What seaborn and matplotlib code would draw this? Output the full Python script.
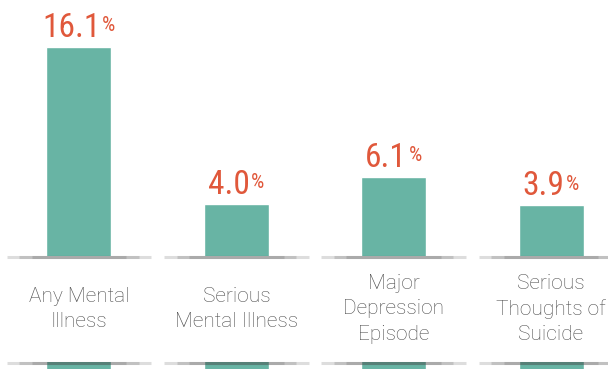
import matplotlib
matplotlib.use("Agg")
import matplotlib.pyplot as plt
import seaborn as sns
import numpy as np

categories = ["Any Mental\nIllness", "Serious\nMental Illness", "Major\nDepression\nEpisode", "Serious\nThoughts of\nSuicide"]
values = [16.1, 4.0, 6.1, 3.9]
value_labels = ["16.1", "4.0", "6.1", "3.9"]

TEAL = "#68B4A4"
RED = "#E0583B"
GRAY = "#4d4d4d"

sns.set_theme(style="white")
plt.rcParams["font.family"] = ["Roboto", "DejaVu Sans"]

NUM_FONT = ["Roboto Condensed", "Roboto"]

W, H = 608, 369
fig = plt.figure(figsize=(W / 100, H / 100), dpi=100)
ax = fig.add_axes([0, 0, 1, 1])

sns.barplot(x=categories, y=values, color=TEAL, width=0.413, saturation=1, ax=ax, zorder=2)

s = 12.98  # px per unit
base_px = H - 256
ylo = -base_px / s
yhi = (H - base_px) / s
ax.set_xlim(-0.502, 3.362)
ax.set_ylim(ylo, yhi)
ax.axis("off")

# extend bars downward so they reappear below the label band
for p in ax.patches:
    h = p.get_height()
    p.set_y(ylo - 1)
    p.set_height(h - (ylo - 1))

band_bottom = -(362 - 256) / s
ax.axhspan(band_bottom, 0, color="white", zorder=3, lw=0)

# soft shadow segments at the two edges
for yb in (0, band_bottom):
    for i in range(len(values)):
        for half in [0.46, 0.38, 0.3]:
            ax.plot([i - half, i + half], [yb - 0.08, yb - 0.08], color="#444444",
                    alpha=0.18, lw=2.2, solid_capstyle="butt", zorder=3.5)

# value labels
for i, (v, lab) in enumerate(zip(values, value_labels)):
    t = ax.annotate(lab, xy=(i, v), xytext=(-5.5, 7.2), textcoords="offset points",
                    ha="center", va="baseline", fontsize=24, color=RED,
                    family=NUM_FONT, fontweight="normal", zorder=5)
    ax.annotate("%", xy=(1, 1), xycoords=t, xytext=(1.0, -3.0), textcoords="offset points",
                ha="left", va="top", fontsize=15, color=RED,
                family=NUM_FONT, zorder=5)

# category labels
label_center = -(309 - 256) / s
for i, c in enumerate(categories):
    ax.text(i, label_center, c, ha="center", va="center", fontsize=15,
            color=GRAY, linespacing=1.42, zorder=5, fontweight="light")

fig.savefig("out.png", dpi=100)
